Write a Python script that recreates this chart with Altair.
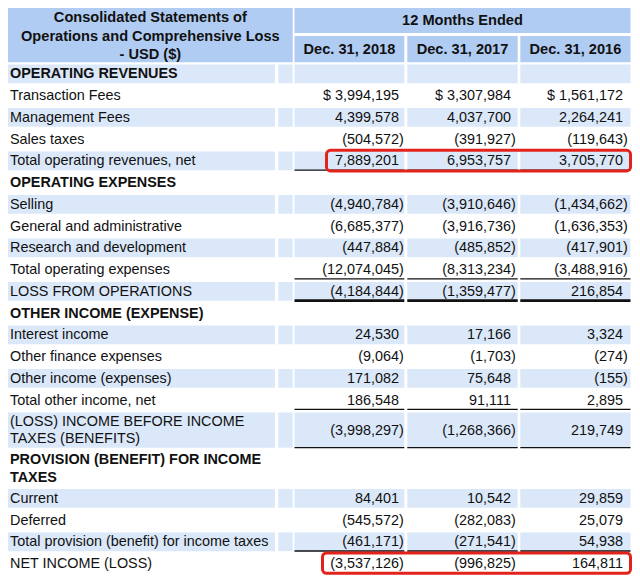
import altair as alt
import pandas as pd

# ---------------- data ----------------
labels = [
    "OPERATING REVENUES",
    "Transaction Fees",
    "Management Fees",
    "Sales taxes",
    "Total operating revenues, net",
    "OPERATING EXPENSES",
    "Selling",
    "General and administrative",
    "Research and development",
    "Total operating expenses",
    "LOSS FROM OPERATIONS",
    "OTHER INCOME (EXPENSE)",
    "Interest income",
    "Other finance expenses",
    "Other income (expenses)",
    "Total other income, net",
    "(LOSS) INCOME BEFORE INCOME\nTAXES (BENEFITS)",
    "PROVISION (BENEFIT) FOR INCOME\nTAXES",
    "Current",
    "Deferred",
    "Total provision (benefit) for income taxes",
    "NET INCOME (LOSS)",
]
v2018 = [None, 3994195, 4399578, -504572, 7889201, None, -4940784, -6685377, -447884,
         -12074045, -4184844, None, 24530, -9064, 171082, 186548, -3998297, None,
         84401, -545572, -461171, -3537126]
v2017 = [None, 3307984, 4037700, -391927, 6953757, None, -3910646, -3916736, -485852,
         -8313234, -1359477, None, 17166, -1703, 75648, 91111, -1268366, None,
         10542, -282083, -271541, -996825]
v2016 = [None, 1561172, 2264241, -119643, 3705770, None, -1434662, -1636353, -417901,
         -3488916, 216854, None, 3324, -274, -155, 2895, 219749, None,
         29859, 25079, 54938, 164811]
years = ["Dec. 31, 2018", "Dec. 31, 2017", "Dec. 31, 2016"]
title_text = "Consolidated Statements of\nOperations and Comprehensive Loss\n- USD ($)"
period_text = "12 Months Ended"
section_rows = [0, 5, 11, 17]
dollar_rows = [1]
underline_rows = [4, 9, 15, 16, 20]
thick_underline_rows = [10]
highlight_rows = [4, 21]

# ---------------- layout ----------------
W, H = 624, 567
FONT = "Liberation Sans"
FS = 14.4
UNIT = 21.75
TWO_LINE = 38.2
BODY_TOP = 55
INSET = 1.5
TEXT_DY = 0.6
LH_NORMAL = 16.5
LH_BOLD = 17.5
LH_HEAD = 18.5
HEADER_BG = "#b0ccf3"
BAND_BG = "#dbe8f9"
RED = "#e2231c"
INK = "#111111"

LABEL_CELL = (0, 267)
NARROW_CELL = (270.3, 284.7)
DATA_CELLS = [(286.5, 396.3), (399.3, 509.7), (512.3, 622.5)]
NUM_RIGHT = [391, 503, 615]
PAREN = 4.8

tops, bottoms = [], []
cur = BODY_TOP
for lab in labels:
    h = UNIT if "\n" not in lab else TWO_LINE
    tops.append(cur)
    cur += h
    bottoms.append(cur)
centers = [(t + b) / 2 for t, b in zip(tops, bottoms)]


def first_line_y(center, text, lh):
    n = text.count("\n") + 1
    return center - (n - 1) * lh / 2 + TEXT_DY


# cell backgrounds
cells = []
cells.append(dict(x=0, x2=NARROW_CELL[1], y=0, y2=54.3, fill=HEADER_BG))
cells.append(dict(x=DATA_CELLS[0][0], x2=DATA_CELLS[2][1], y=0, y2=25, fill=HEADER_BG))
for c in DATA_CELLS:
    cells.append(dict(x=c[0], x2=c[1], y=28, y2=54.3, fill=HEADER_BG))
for i in range(len(labels)):
    if i % 2 == 0:
        for c in [LABEL_CELL, NARROW_CELL] + DATA_CELLS:
            cells.append(dict(x=c[0], x2=c[1], y=tops[i] + INSET, y2=bottoms[i] - INSET, fill=BAND_BG))
cells_df = pd.DataFrame(cells)

# label text
lab_rows = []
for i, lab in enumerate(labels):
    bold = i in section_rows
    lab_rows.append(dict(t=lab, x=2,
                         y=first_line_y(centers[i], lab, LH_BOLD if bold else LH_NORMAL),
                         bold=bold))
lab_df = pd.DataFrame(lab_rows)


# numbers
def fmt(v, dollar):
    s = f"{abs(v):,}"
    if v < 0:
        s = f"({s})"
    if dollar:
        s = "$ " + s
    return s


nums = []
for ci, series in enumerate([v2018, v2017, v2016]):
    for i, v in enumerate(series):
        if v is None:
            continue
        nums.append(dict(
            t=fmt(v, i in dollar_rows),
            x=NUM_RIGHT[ci] + (PAREN if v < 0 else 0),
            y=centers[i] + TEXT_DY,
        ))
num_df = pd.DataFrame(nums)

# underlines
rules = []
for i in underline_rows + thick_underline_rows:
    sw = 2.6 if i in thick_underline_rows else 1.4
    for c in DATA_CELLS:
        rules.append(dict(x=c[0], x2=c[1], y=bottoms[i] - 1.6, sw=sw))
rule_df = pd.DataFrame(rules)

# highlight boxes
box_left = {4: 318.5, 21: 314.5}
boxes = [dict(x=box_left[i], x2=622.5, y=tops[i] + 0.3, y2=min(bottoms[i] - 0.8, H - 1.7))
         for i in highlight_rows]
box_df = pd.DataFrame(boxes)

# header texts
head_df = pd.DataFrame(
    [dict(t=title_text, x=(0 + NARROW_CELL[1]) / 2, y=first_line_y(28.0, title_text, LH_HEAD))]
)
period_df = pd.DataFrame([dict(t=period_text, x=(DATA_CELLS[0][0] + DATA_CELLS[2][1]) / 2,
                               y=12.7 + TEXT_DY)])
years_df = pd.DataFrame([dict(t=y, x=(c[0] + c[1]) / 2, y=41.5 + TEXT_DY) for y, c in zip(years, DATA_CELLS)])

# ---------------- chart ----------------
xs = alt.Scale(domain=[0, W], nice=False, zero=False)
ys = alt.Scale(domain=[0, H], nice=False, zero=False, reverse=True)


def X(f="x"):
    return alt.X(f"{f}:Q", scale=xs, axis=None)


def Y(f="y"):
    return alt.Y(f"{f}:Q", scale=ys, axis=None)


bg = alt.Chart(cells_df).mark_rect(strokeWidth=0).encode(
    x=X(), x2="x2:Q", y=Y(), y2="y2:Q", color=alt.Color("fill:N", scale=None)
)

lab_norm = alt.Chart(lab_df[~lab_df.bold]).mark_text(
    align="left", baseline="middle", font=FONT, fontSize=FS, color=INK,
    lineBreak="\n", lineHeight=LH_NORMAL
).encode(x=X(), y=Y(), text="t:N")

lab_bold = alt.Chart(lab_df[lab_df.bold]).mark_text(
    align="left", baseline="middle", font=FONT, fontSize=FS, fontWeight="bold", color=INK,
    lineBreak="\n", lineHeight=LH_BOLD
).encode(x=X(), y=Y(), text="t:N")

num_text = alt.Chart(num_df).mark_text(
    align="right", baseline="middle", font=FONT, fontSize=FS, color=INK
).encode(x=X(), y=Y(), text="t:N")

rule_layer = alt.Chart(rule_df).mark_rule(color=INK).encode(
    x=X(), x2="x2:Q", y=Y(), strokeWidth=alt.StrokeWidth("sw:Q", scale=None)
)

box_layer = alt.Chart(box_df).mark_rect(
    filled=False, stroke=RED, strokeWidth=3, cornerRadius=4
).encode(x=X(), x2="x2:Q", y=Y(), y2="y2:Q")

head_text = alt.Chart(head_df).mark_text(
    align="center", baseline="middle", font=FONT, fontSize=14.6, fontWeight="bold", color=INK,
    lineBreak="\n", lineHeight=LH_HEAD
).encode(x=X(), y=Y(), text="t:N")

period_layer = alt.Chart(period_df).mark_text(
    align="center", baseline="middle", font=FONT, fontSize=14.6, fontWeight="bold", color=INK
).encode(x=X(), y=Y(), text="t:N")

years_layer = alt.Chart(years_df).mark_text(
    align="center", baseline="middle", font=FONT, fontSize=14.6, fontWeight="bold", color=INK
).encode(x=X(), y=Y(), text="t:N")

chart = alt.layer(
    bg, rule_layer, lab_norm, lab_bold, num_text, head_text, period_layer, years_layer, box_layer
).properties(
    width=W, height=H, padding=0, autosize=alt.AutoSizeParams(type="none"), background="white"
).configure_view(stroke=None)

chart.save("out.html", embed_options={"renderer": "svg", "actions": False})
